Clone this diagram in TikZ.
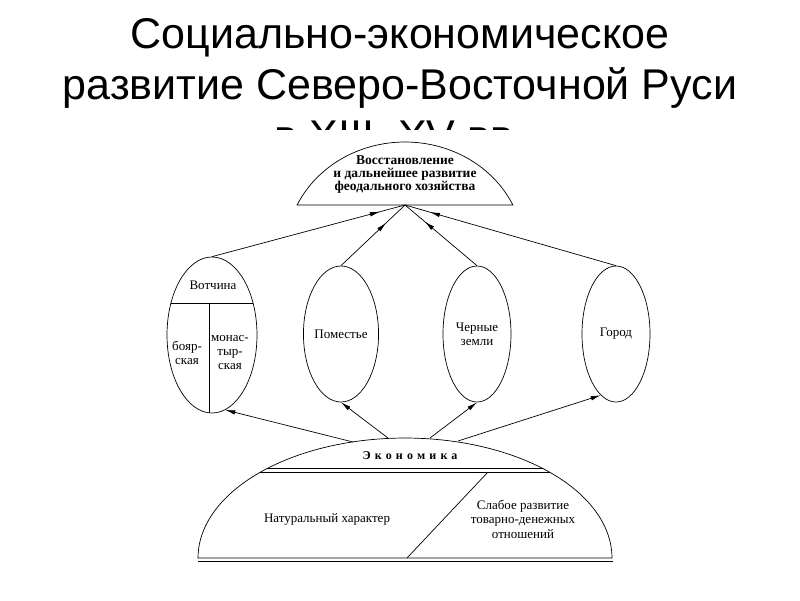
\documentclass[tikz,border=0pt]{standalone}
\usepackage{fontspec}
\setmainfont{Liberation Serif}
\newfontfamily\titlefont{Liberation Sans}
\usepackage{tikz}
\usetikzlibrary{arrows.meta,shapes.geometric,decorations.markings}

\begin{document}
\begin{tikzpicture}[x=1pt,y=-1pt,>={Latex[length=10pt,width=4.5pt]},
    oval/.style={draw,ellipse,line width=0.7pt,minimum width=68pt,minimum height=136pt,inner sep=0pt,align=center,font=\fontsize{13}{14}\selectfont},
    tohead/.style={line width=0.7pt,postaction={decorate},decoration={markings,mark=at position -26pt with {\arrow{Latex[length=10pt,width=4.5pt]}}}},
    toup/.style={->,line width=0.7pt}]
    \useasboundingbox (0,0) rectangle (800,600);

    % 标题
    \node[anchor=base,inner sep=0pt,font=\titlefont\fontsize{43}{50}\selectfont] (title1) at (400,48) {Социально-экономическое};
    \node[anchor=base,inner sep=0pt,font=\titlefont\fontsize{43}{50}\selectfont] (title2) at (400,99) {развитие Северо-Восточной Руси};
    \node[anchor=base,inner sep=0pt,font=\titlefont\fontsize{43}{50}\selectfont] (title3) at (400,150) {в XIII–XV вв.};
    % 图片的白底盖住第三行下半部分
    \fill[white] (140,130) rectangle (670,600);

    % 上方半圆：封建经济
    \draw[line width=0.7pt] plot[domain=25:155,samples=60] ({405+119*cos(\x)},{251-109*sin(\x)}) -- cycle;
    \node[align=center,inner sep=0pt,font=\bfseries\fontsize{13.5}{13}\selectfont] (feodtext) at (405,175) {Восстановление\\и дальнейшее развитие\\феодального хозяйства};
    \coordinate (feod) at (405,205);

    % 四个椭圆
    \node[oval,minimum width=90pt,minimum height=156pt] (votch) at (212,335) {};
    \node[oval] (pomest) at (341,334) {Поместье};
    \node[oval] (cherny) at (477,334) {Черные\\земли};
    \node[oval] (gorod) at (616,334) {Город};

    % 世袭领地的分隔线
    \begin{scope}
      \clip (212,335) ellipse [x radius=45pt,y radius=78pt];
      \draw[line width=0.7pt] (160,303) -- (270,303);
      \draw[line width=0.7pt] (209,303) -- (209,420);
    \end{scope}
    \node[font=\fontsize{13}{14}\selectfont] (votchname) at (213,285) {Вотчина};
    \node[align=center,font=\fontsize{13}{14}\selectfont] (boyar) at (187,353) {бояр-\\ская};
    \node[align=center,font=\fontsize{13}{14}\selectfont] (monast) at (230,352) {монас-\\тыр-\\ская};

    % 向上汇聚的箭头
    \draw[tohead] (votch.north) -- (feod);
    \draw[tohead] (pomest.north) -- (feod);
    \draw[tohead] (cherny.north) -- (feod);
    \draw[tohead] (gorod.north) -- (feod);

    % 下方半圆：经济
    \draw[line width=0.7pt] plot[domain=0:180,samples=80] ({405+207*cos(\x)},{558-120*sin(\x)}) -- cycle;
    \draw[line width=0.7pt] (198,561) -- (613,561);
    \begin{scope}
      \clip plot[domain=0:180,samples=80] ({405+207*cos(\x)},{558-120*sin(\x)}) -- cycle;
      \draw[line width=0.7pt] (190,468) -- (620,468);
      \draw[line width=0.7pt] (190,472) -- (620,472);
    \end{scope}
    \draw[line width=0.7pt] (488,472) -- (407,558);
    \node[font=\bfseries\fontsize{12}{14}\selectfont] (econ) at (410,456) {\addfontfeature{LetterSpace=35}Экономика};
    \node[font=\fontsize{13}{14}\selectfont] (natur) at (327,519) {Натуральный характер};
    \node[align=center,font=\fontsize{13}{14.5}\selectfont] (tovar) at (523,519) {Слабое развитие\\товарно-денежных\\отношений};

    % 从经济出发的箭头
    \coordinate (econ1) at (353,442);
    \coordinate (econ2) at (388,438);
    \coordinate (econ3) at (430,438);
    \coordinate (econ4) at (458,441);
    \draw[toup] (econ1) -- (votch.-80);
    \draw[toup] (econ2) -- (pomest.south);
    \draw[toup] (econ3) -- (cherny.south);
    \draw[toup] (econ4) -- (gorod.-104);
  \end{tikzpicture}
\end{document}
